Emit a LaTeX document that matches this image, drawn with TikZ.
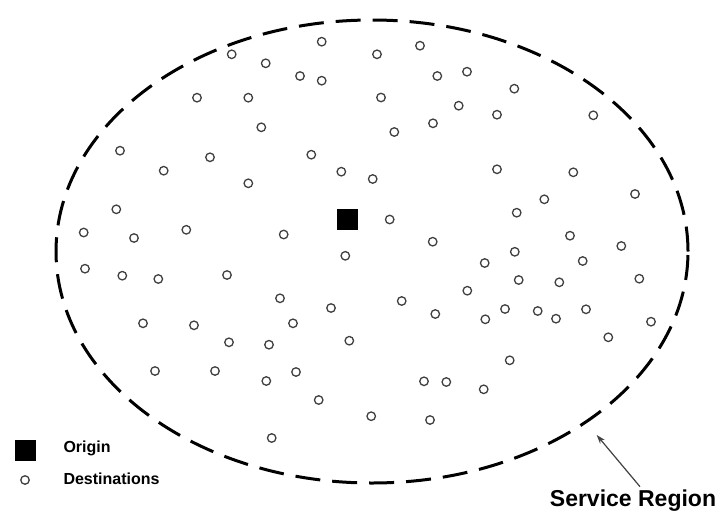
\documentclass[tikz,border=0pt]{standalone}
\usepackage{fontspec}
\setmainfont{Liberation Sans}
\usetikzlibrary{shapes.geometric,arrows.meta}

\tikzset{
  dest/.style={circle, draw=black!75, line width=1.3pt, inner sep=0pt, minimum size=8.5pt},
  orig/.style={rectangle, fill=black, inner sep=0pt, minimum size=21pt},
  legendtext/.style={anchor=west, font=\bfseries\fontsize{16}{19}\selectfont},
}

\begin{document}
\begin{tikzpicture}[x=1pt, y=-1pt]
        \useasboundingbox (0,0) rectangle (719,514);

        % Draw the service region
        \node[ellipse, draw, line width=3pt, dash pattern=on 25pt off 12pt,
              minimum width=632pt, minimum height=463pt, inner sep=0pt] (region) at (372,251.5) {};

        % Draw the origin
        \node[orig] (origin) at (347.5,219.5) {};

        % Draw the destinations
        \foreach \x/\y [count=\i] in {
            83.7/232.5, 85/268.7, 116.3/209.3, 120/150.7, 134/238, 163.7/170.7, 186.3/229.8,
            197/97.7, 210/157.3, 227/275, 231.7/54.3, 248.3/97.7, 248.3/183.3, 261.3/127.3,
            265.7/63.3, 283.7/234.5, 300/76, 311.3/154.7, 321.7/41.7, 321.7/80.7, 341.3/171.7,
            372.7/179, 377/54.3, 381/97.5, 394.3/132, 389.7/219.5, 345.3/255.8, 420/45.7,
            437.3/76, 467/71.7, 514.3/88.7, 458.7/105.7, 497/114.7, 433/123.3, 593.3/115.3,
            497/169.3, 573.3/172.3, 635/194, 544.3/199.3, 516.7/212.7, 570/235.7, 432.7/241.7,
            621.3/246, 514.8/251.8, 484.7/263, 582.7/261, 518.7/280, 559.3/282.3, 639.3/278.7,
            467.3/290.7, 401.7/301, 435.3/314, 485.3/319.3, 505/309, 537.7/311, 556/318.7,
            586/309.3, 651/321.7, 608.3/337.3, 509.7/360.3, 424/381.3, 446.3/382, 483.7/389.3,
            430/420, 371.2/416.2, 318.7/400, 296/372, 266.3/381, 271.7/438, 349.3/340.7,
            331/308, 280/298.3, 293/323.3, 269/344.7, 229/342.3, 215/371, 155/371,
            143/323.3, 194/325.3, 158.3/279, 122.3/275.7}
            \node[dest] (d\i) at (\x,\y) {};

        % Draw the legend
        \node[orig] (legorig) at (25,450.8) {};
        \node[legendtext] (legorigtext) at (60,448.5) {Origin};
        \node[dest] (legdest) at (25,480) {};
        \node[legendtext] (legdesttext) at (60,478.5) {Destinations};

        % Label the service region
        \node[anchor=center, font=\bfseries\fontsize{23}{27}\selectfont] (svc) at (633,501) {Service Region};
        \coordinate (svctip) at (596.7,435);
        \draw[black!75, line width=1.2pt, -{Stealth[length=9pt, width=6pt]}] (svc.north) ++(7,0) coordinate (svctail) -- (svctip);
\end{tikzpicture}
\end{document}
